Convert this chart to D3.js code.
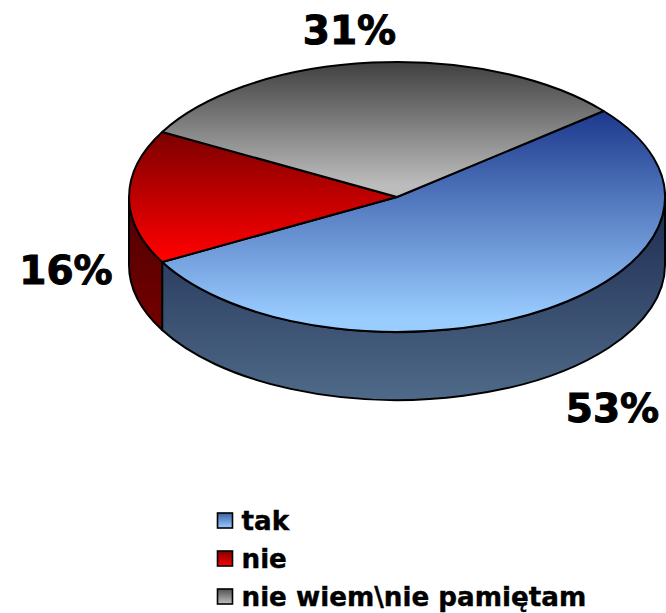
<!DOCTYPE html>
<html><head><meta charset="utf-8">
<script src="https://cdn.jsdelivr.net/npm/d3@7"></script>
<style>html,body{margin:0;padding:0;background:#fff}svg{display:block}text{font-family:"DejaVu Sans";font-weight:bold;fill:#000;stroke:#000}</style>
</head><body><script>
const categories = ["tak", "nie", "nie wiem\\nie pamiętam"];
const values = [53, 16, 31];
const labels = ["53%", "16%", "31%"];
const topStops = [["#1c388c", "#99ccff"], ["#7d0000", "#ff0000"], ["#404040", "#bcbcbc"]];
const wallStops = [["#1c2a50", "#4f6a88"], ["#500000", "#730000"], ["#333", "#666"]];
const legendStops = [["#3a62a8", "#99ccff"], ["#800000", "#ff0000"], ["#505050", "#c0c0c0"]];

const W = 666, H = 613, cx = 397, cy = 197, rx = 268, ry = 135, depth = 68;
const svg = d3.select("body").append("svg").attr("width", W).attr("height", H);
const defs = svg.append("defs");
function grad(id, stops, y1, y2, user) {
  const g = defs.append("linearGradient").attr("id", id).attr("x1", 0).attr("x2", 0);
  if (user) g.attr("gradientUnits", "userSpaceOnUse");
  g.attr("y1", y1).attr("y2", y2);
  g.append("stop").attr("offset", 0).attr("stop-color", stops[0]);
  g.append("stop").attr("offset", 1).attr("stop-color", stops[1]);
}
const pie = d3.pie().sort(null).startAngle(50.4 * Math.PI / 180).endAngle((50.4 + 360) * Math.PI / 180);
const arcs = pie(values);
const px = a => cx + rx * Math.sin(a), py = a => cy - ry * Math.cos(a);

// side walls: visible part of each slice on the lower half of the ellipse
const wall = svg.append("g");
const gradRanges = [[111, 318], [134, 258], [62, 185]];
const wallRanges = [[197, 400], [197, 330], [0, 1]];
arcs.forEach((d, i) => {
  grad("wall" + i, wallStops[i], wallRanges[i][0], wallRanges[i][1], true);
  grad("leg" + i, legendStops[i], 0, 1, false);
  grad("topU" + i, topStops[i], (gradRanges[i][0] - cy) / ry, (gradRanges[i][1] - cy) / ry, true);
  const a0 = Math.max(d.startAngle, Math.PI / 2), a1 = Math.min(d.endAngle, 3 * Math.PI / 2);
  if (a1 <= a0) return;
  const path = `M${px(a0)},${py(a0)}A${rx},${ry} 0 0 1 ${px(a1)},${py(a1)}L${px(a1)},${py(a1) + depth}A${rx},${ry} 0 0 0 ${px(a0)},${py(a0) + depth}Z`;
  wall.append("path").attr("d", path).attr("fill", `url(#wall${i})`).attr("stroke", "#000").attr("stroke-width", 2).attr("stroke-linejoin", "round");
});

// top faces: unit d3.arc scaled into the ellipse
const arc = d3.arc().innerRadius(0).outerRadius(1);
svg.append("g").selectAll("path").data(arcs).join("path")
  .attr("transform", `translate(${cx},${cy}) scale(${rx},${ry})`)
  .attr("d", arc)
  .attr("fill", (d, i) => `url(#topU${i})`)
  .attr("vector-effect", "non-scaling-stroke")
  .attr("stroke", "#000").attr("stroke-width", 2).attr("stroke-linejoin", "round");

// data labels
const labelPos = [[612.5, 422], [66, 283.5], [349.5, 44]];
svg.append("g").selectAll("text").data(labels).join("text")
  .attr("x", (d, i) => labelPos[i][0]).attr("y", (d, i) => labelPos[i][1])
  .attr("text-anchor", "middle").attr("font-size", 39).attr("stroke-width", 1).text(d => d);

// legend
const legendY = d3.scalePoint().domain(categories).range([521, 597]);
const leg = svg.append("g").selectAll("g").data(categories).join("g")
  .attr("transform", d => `translate(0,${legendY(d)})`);
leg.append("rect").attr("x", 217.5).attr("y", -8).attr("width", 15).attr("height", 15)
  .attr("fill", (d, i) => `url(#leg${i})`).attr("stroke", "#000").attr("stroke-width", 1.6);
leg.append("text").attr("x", 241.5).attr("y", 9).attr("font-size", 26.2).attr("stroke-width", 0.4).text(d => d);
</script></body></html>
